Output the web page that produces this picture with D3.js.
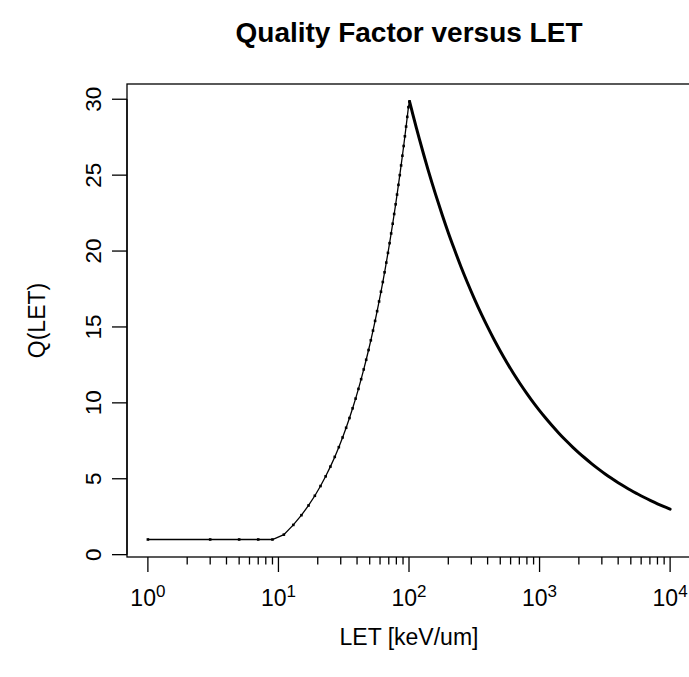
<!DOCTYPE html>
<html>
<head>
<meta charset="utf-8">
<script src="https://cdn.jsdelivr.net/npm/d3@7"></script>
<style>
  body { margin: 0; background: #fff; }
  text { font-family: "Liberation Sans", Arial, sans-serif; fill: #000; }
</style>
</head>
<body>
<svg id="chart" width="689" height="677"></svg>
<script>
// LET [keV/um] and Q(LET) (dots every 2 keV/um on the rising side)
let letRise = [1, 3, 5, 7, 9, 11, 13, 15, 17, 19, 21, 23, 25, 27, 29, 31, 33, 35, 37, 39,
  41, 43, 45, 47, 49, 51, 53, 55, 57, 59, 61, 63, 65, 67, 69, 71, 73, 75, 77, 79,
  81, 83, 85, 87, 89, 91, 93, 95, 97, 99, 101];
let qRise = [1, 1, 1, 1, 1, 1.32, 1.96, 2.6, 3.24, 3.88, 4.52, 5.16, 5.8, 6.44, 7.08, 7.72, 8.36, 9.0, 9.64, 10.28,
  10.92, 11.56, 12.2, 12.84, 13.48, 14.12, 14.76, 15.4, 16.04, 16.68, 17.32, 17.96, 18.6, 19.24, 19.88,
  20.52, 21.16, 21.8, 22.44, 23.08, 23.72, 24.36, 25.0, 25.64, 26.28, 26.92, 27.56, 28.2, 28.84, 29.48, 29.85];

// falling side: the dots are so dense they merge into a thick line
let letFall = [101, 105, 110, 115, 120, 130, 140, 150, 160, 180, 200, 220, 250, 280, 320, 360, 400,
  450, 500, 560, 630, 710, 800, 900, 1000, 1100, 1250, 1400, 1600, 1800, 2000, 2200, 2500, 2800,
  3200, 3600, 4000, 4500, 5000, 5600, 6300, 7100, 8000, 9000, 9999];
let qFall = [29.85, 29.28, 28.6, 27.98, 27.39, 26.31, 25.35, 24.49, 23.72, 22.36, 21.21, 20.23, 18.97,
  17.93, 16.77, 15.81, 15.0, 14.14, 13.42, 12.68, 11.95, 11.26, 10.61, 10.0, 9.49, 9.05, 8.49, 8.02,
  7.5, 7.07, 6.71, 6.4, 6.0, 5.67, 5.3, 5.0, 4.74, 4.47, 4.24, 4.01, 3.78, 3.56, 3.35, 3.16, 3.0];

let yTicks = [0, 5, 10, 15, 20, 25, 30];
let xDecades = [0, 1, 2, 3, 4];

const svg = d3.select('#chart');
const plot = { left: 127, right: 691, top: 84, bottom: 557 };

let rise = letRise.map((d, i) => [d, qRise[i]]);
let fall = letFall.map((d, i) => [d, qFall[i]]);
let all = rise.concat(fall);

// R style 4% padding on both axes
let lx = d3.extent(all, d => Math.log10(d[0]));
let padX = (lx[1] - lx[0]) * 0.04;
let ly = d3.extent(all, d => d[1]);
let padY = (ly[1] - ly[0]) * 0.04;

let x = d3.scaleLog()
  .domain([Math.pow(10, lx[0] - padX), Math.pow(10, lx[1] + padX)])
  .range([plot.left, plot.right]);
let y = d3.scaleLinear()
  .domain([ly[0] - padY, ly[1] + padY])
  .range([plot.bottom, plot.top]);

// data
let line = d3.line()
  .x(d => x(d[0]))
  .y(d => y(d[1]));

svg.append('path')
  .datum(rise)
  .attr('d', line)
  .attr('fill', 'none')
  .attr('stroke', '#000')
  .attr('stroke-width', 1.3);

svg.append('g')
  .selectAll('rect')
  .data(rise)
  .enter()
  .append('rect')
  .attr('x', d => x(d[0]) - 1.3)
  .attr('y', d => y(d[1]) - 1.3)
  .attr('width', 2.6)
  .attr('height', 2.6)
  .attr('fill', '#000');

svg.append('path')
  .datum(fall)
  .attr('d', line.curve(d3.curveMonotoneX))
  .attr('fill', 'none')
  .attr('stroke', '#000')
  .attr('stroke-width', 3)
  .attr('stroke-linecap', 'round')
  .attr('stroke-linejoin', 'round');

// box
svg.append('rect')
  .attr('x', plot.left)
  .attr('y', plot.top)
  .attr('width', plot.right - plot.left)
  .attr('height', plot.bottom - plot.top)
  .attr('fill', 'none')
  .attr('stroke', '#000')
  .attr('stroke-width', 1.3);

// y axis
let yAxis = svg.append('g');
yAxis.append('line')
  .attr('x1', plot.left).attr('x2', plot.left)
  .attr('y1', y(yTicks[0])).attr('y2', y(yTicks[yTicks.length - 1]))
  .attr('stroke', '#000').attr('stroke-width', 1.3);
yAxis.selectAll('line.tick')
  .data(yTicks)
  .enter()
  .append('line')
  .attr('class', 'tick')
  .attr('x1', plot.left - 15).attr('x2', plot.left)
  .attr('y1', d => y(d)).attr('y2', d => y(d))
  .attr('stroke', '#000').attr('stroke-width', 1.3);
yAxis.selectAll('text')
  .data(yTicks)
  .enter()
  .append('text')
  .attr('transform', d => `translate(${plot.left - 26},${y(d)}) rotate(-90)`)
  .attr('text-anchor', 'middle')
  .style('font-size', '22.5px')
  .text(d => d);

// x axis, log ticks
let minor = [];
xDecades.slice(0, -1).forEach(e => {
  for (let k = 2; k <= 9; k++) minor.push(k * Math.pow(10, e));
});
let xAxis = svg.append('g');
xAxis.selectAll('line.major')
  .data(xDecades)
  .enter()
  .append('line')
  .attr('x1', d => x(Math.pow(10, d))).attr('x2', d => x(Math.pow(10, d)))
  .attr('y1', plot.bottom).attr('y2', plot.bottom + 15)
  .attr('stroke', '#000').attr('stroke-width', 1.3);
xAxis.selectAll('line.minor')
  .data(minor)
  .enter()
  .append('line')
  .attr('x1', d => x(d)).attr('x2', d => x(d))
  .attr('y1', plot.bottom).attr('y2', plot.bottom + 7.5)
  .attr('stroke', '#000').attr('stroke-width', 1.3);
let lbl = xAxis.selectAll('text')
  .data(xDecades)
  .enter()
  .append('text')
  .attr('x', d => x(Math.pow(10, d)))
  .attr('y', 606)
  .attr('text-anchor', 'middle')
  .style('font-size', '23px');
lbl.append('tspan').text('10');
lbl.append('tspan')
  .attr('dy', -9)
  .style('font-size', '17px')
  .text(d => d);

// titles
svg.append('text')
  .attr('x', (plot.left + plot.right) / 2)
  .attr('y', 645)
  .attr('text-anchor', 'middle')
  .style('font-size', '23px')
  .text('LET [keV/um]');

svg.append('text')
  .attr('transform', `translate(45,${(plot.top + plot.bottom) / 2}) rotate(-90)`)
  .attr('text-anchor', 'middle')
  .style('font-size', '23px')
  .text('Q(LET)');

svg.append('text')
  .attr('x', (plot.left + plot.right) / 2)
  .attr('y', 42)
  .attr('text-anchor', 'middle')
  .style('font-size', '28px')
  .style('font-weight', 'bold')
  .text('Quality Factor versus LET');
</script>
</body>
</html>
